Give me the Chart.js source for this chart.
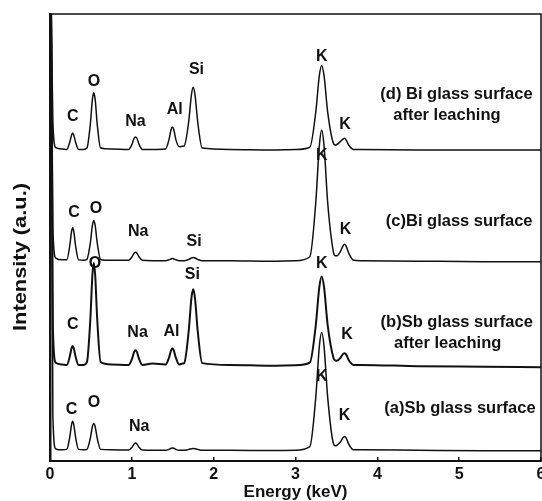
<!DOCTYPE html>
<html>
<head>
<meta charset="utf-8">
<script src="https://cdn.jsdelivr.net/npm/chart.js@4/dist/chart.umd.min.js"></script>
<style>
  html, body { margin: 0; padding: 0; background: #fff; }
  #wrap { width: 542px; height: 501px; overflow: hidden; position: relative; }
  #eds { display: block; }
</style>
</head>
<body>
<div id="wrap"><canvas id="eds" width="560" height="510"></canvas></div>
<script>
// energy grid (keV) shared by the four spectra
const energy = [
  0.0, 0.015, 0.035, 0.07, 0.15,
  0.205, 0.241, 0.263, 0.277, 0.291, 0.313, 0.349,
  0.41,
  0.451, 0.493, 0.518, 0.535, 0.552, 0.577, 0.619,
  0.75,
  0.961, 1.003, 1.028, 1.045, 1.062, 1.087, 1.129,
  1.25,
  1.412, 1.454, 1.479, 1.496, 1.513, 1.538, 1.58,
  1.62,
  1.64, 1.695, 1.728, 1.75, 1.772, 1.805, 1.86,
  2.2, 2.7, 3.0,
  3.175, 3.248, 3.291, 3.32, 3.349, 3.393, 3.465,
  3.485,
  3.505, 3.55, 3.58, 3.60, 3.62, 3.65, 3.71,
  3.8, 4.5, 5.3, 6.0
];

// (a) Sb glass surface
const sbSurface = [
  105, 100, 10, 2.7, 2.5,
  2.6, 5.3, 8.1, 8.9, 8.1, 5.3, 2.6,
  2.5,
  2.6, 5.1, 7.7, 8.4, 7.7, 5.1, 2.6,
  2.5,
  2.45, 3.1, 3.8, 4.0, 3.8, 3.1, 2.45,
  2.4,
  2.4, 2.6, 2.85, 2.9, 2.85, 2.6, 2.4,
  2.4,
  2.4, 2.6, 2.75, 2.8, 2.75, 2.6, 2.4,
  2.4, 2.35, 2.4,
  3.2, 14.3, 25.6, 28.8, 25.6, 14.3, 3.8,
  3.4,
  3.5, 4.3, 5.2, 5.5, 5.1, 3.8, 2.5,
  2.5, 2.4, 2.3, 2.3
];

// (b) Sb glass surface after leaching
const sbLeached = [
  105, 100, 30, 22.0, 21.6,
  21.5, 23.3, 25.2, 25.7, 25.2, 23.3, 21.5,
  21.5,
  22.1, 31.7, 41.6, 44.3, 41.6, 31.7, 22.1,
  21.6,
  21.5, 22.9, 24.4, 24.8, 24.4, 22.9, 21.5,
  21.8,
  21.6, 23.1, 24.7, 25.2, 24.7, 23.1, 21.6,
  21.8,
  21.9, 29.1, 36.4, 38.4, 36.4, 29.1, 21.9,
  21.5, 21.3, 21.4,
  22.0, 30.4, 38.9, 41.3, 38.9, 30.4, 23.0,
  22.5,
  22.4, 23.1, 23.9, 24.1, 23.8, 22.6, 21.5,
  21.5, 21.2, 21.1, 21.0
];

// (c) Bi glass surface
const biSurface = [
  105, 100, 52, 45.4, 45.0,
  45.0, 48.1, 51.3, 52.2, 51.3, 48.1, 45.0,
  44.9,
  45.1, 48.8, 52.7, 53.8, 52.7, 48.8, 45.1,
  44.9,
  44.9, 45.7, 46.5, 46.7, 46.5, 45.7, 44.9,
  44.8,
  44.8, 45.0, 45.2, 45.3, 45.2, 45.0, 44.8,
  44.8,
  44.8, 45.1, 45.4, 45.5, 45.4, 45.1, 44.8,
  44.8, 44.7, 44.8,
  45.7, 57.9, 70.5, 74.0, 70.5, 57.9, 46.6,
  45.9,
  45.9, 46.9, 48.1, 48.5, 48.0, 46.5, 44.9,
  44.8, 44.7, 44.6, 44.6
];

// (d) Bi glass surface after leaching
const biLeached = [
  105, 100, 76, 70.1, 69.8,
  69.7, 71.3, 72.9, 73.4, 72.9, 71.3, 69.7,
  69.7,
  70.0, 75.4, 80.9, 82.4, 80.9, 75.4, 70.0,
  69.8,
  69.7, 70.9, 72.2, 72.5, 72.2, 70.9, 69.7,
  69.7,
  69.8, 71.9, 74.1, 74.7, 74.1, 71.9, 70.3,
  70.4,
  70.5, 75.9, 81.9, 83.6, 81.9, 75.9, 70.0,
  69.7, 69.6, 69.7,
  70.2, 78.1, 86.2, 88.5, 86.2, 78.1, 71.0,
  70.7,
  70.8, 71.5, 72.0, 72.2, 71.8, 70.7, 69.7,
  69.7, 69.6, 69.6, 69.6
];

// element labels over the peaks
const peakText   = ['C', 'O', 'Na', 'Al', 'Si', 'K', 'K',
                    'C', 'O', 'Na', 'Si', 'K', 'K',
                    'C', 'O', 'Na', 'Al', 'Si', 'K', 'K',
                    'C', 'O', 'Na', 'K', 'K'];
const peakEnergy = [0.277, 0.537, 1.045, 1.524, 1.79, 3.32, 3.606,
                    0.293, 0.561, 1.077, 1.76, 3.32, 3.61,
                    0.277, 0.549, 1.07, 1.484, 1.74, 3.32, 3.63,
                    0.264, 0.537, 1.09, 3.32, 3.60];
const peakLevel  = [77.0, 84.9, 75.9, 78.7, 87.5, 90.4, 75.3,
                    55.6, 56.5, 51.4, 49.0, 68.4, 51.8,
                    30.6, 44.2, 28.7, 29.0, 41.6, 44.2, 28.3,
                    11.5, 13.0, 7.8, 18.8, 10.2];

// sample names at the right
const sampleText   = ['(d) Bi glass surface', 'after leaching', '(c)Bi glass surface',
                      '(b)Sb glass surface', 'after leaching', '(a)Sb glass surface'];
const sampleEnergy = [4.967, 4.85, 5.0, 4.97, 4.86, 5.01];
const sampleLevel  = [82.1, 77.4, 53.7, 31.1, 26.4, 11.7];

const xTicks = [0, 1, 2, 3, 4, 5, 6];

const FONT = 'Arial, "Liberation Sans", sans-serif';

function toPoints(arr) {
    return energy.map((e, i) => ({ x: e, y: arr[i] }));
}

function spectrum(label, arr, width) {
    return {
        label: label,
        data: toPoints(arr),
        borderColor: '#111',
        borderWidth: width,
        pointRadius: 0,
        fill: false,
        cubicInterpolationMode: 'monotone'
    };
}

// frame, y title and text annotations
const annotate = {
    id: 'annotate',
    afterDatasetsDraw(chart) {
        const { ctx, chartArea: a, scales } = chart;
        const xs = scales.x, ys = scales.y;
        ctx.save();
        ctx.strokeStyle = '#111';
        ctx.lineWidth = 1.5;
        ctx.beginPath();
        ctx.moveTo(a.left, a.top);
        ctx.lineTo(a.right, a.top);
        ctx.lineTo(a.right, a.bottom);
        ctx.stroke();

        ctx.fillStyle = '#111';
        ctx.textAlign = 'center';
        ctx.textBaseline = 'middle';
        ctx.font = 'bold 16px ' + FONT;
        peakText.forEach((t, i) => {
            ctx.fillText(t, xs.getPixelForValue(peakEnergy[i]), ys.getPixelForValue(peakLevel[i]));
        });
        ctx.font = 'bold 16.5px ' + FONT;
        sampleText.forEach((t, i) => {
            ctx.fillText(t, xs.getPixelForValue(sampleEnergy[i]), ys.getPixelForValue(sampleLevel[i]));
        });

        // rotated y axis title, stretched a little like the original
        ctx.font = 'bold 19px ' + FONT;
        const title = 'Intensity (a.u.)';
        const w = ctx.measureText(title).width;
        ctx.translate(21, 257);
        ctx.rotate(-Math.PI / 2);
        ctx.scale(148 / w, 1);
        ctx.fillText(title, 0, 0);
        ctx.restore();
    }
};

new Chart(document.getElementById('eds'), {
    type: 'line',
    data: {
        datasets: [
            spectrum('(a)', sbSurface, 1.5),
            spectrum('(b)', sbLeached, 2),
            spectrum('(c)', biSurface, 1.5),
            spectrum('(d)', biLeached, 1.5)
        ]
    },
    options: {
        responsive: false,
        animation: false,
        devicePixelRatio: 1,
        layout: { padding: { left: 0, right: 19, top: 14, bottom: 0 } },
        plugins: { legend: { display: false }, tooltip: { enabled: false } },
        scales: {
            x: {
                type: 'linear',
                min: 0,
                max: 6,
                afterBuildTicks: (scale) => { scale.ticks = xTicks.map(v => ({ value: v })); },
                afterFit: (scale) => { scale.height = 49; },
                grid: {
                    display: true,
                    drawOnChartArea: false,
                    drawTicks: true,
                    tickLength: -4,
                    color: '#111',
                    lineWidth: 1.5
                },
                border: { display: true, color: '#111', width: 2 },
                ticks: {
                    color: '#111',
                    padding: 8,
                    maxRotation: 0,
                    font: { family: FONT, size: 16, weight: 'bold' }
                },
                title: {
                    display: true,
                    text: 'Energy (keV)',
                    color: '#111',
                    padding: { top: 0, bottom: 7 },
                    font: { family: FONT, size: 17, weight: 'bold' }
                }
            },
            y: {
                min: 0,
                max: 100,
                afterFit: (scale) => { scale.width = 50; },
                grid: { display: false },
                border: { display: true, color: '#111', width: 2.5 },
                ticks: { display: false },
                title: { display: false }
            }
        }
    },
    plugins: [annotate]
});
</script>
</body>
</html>
